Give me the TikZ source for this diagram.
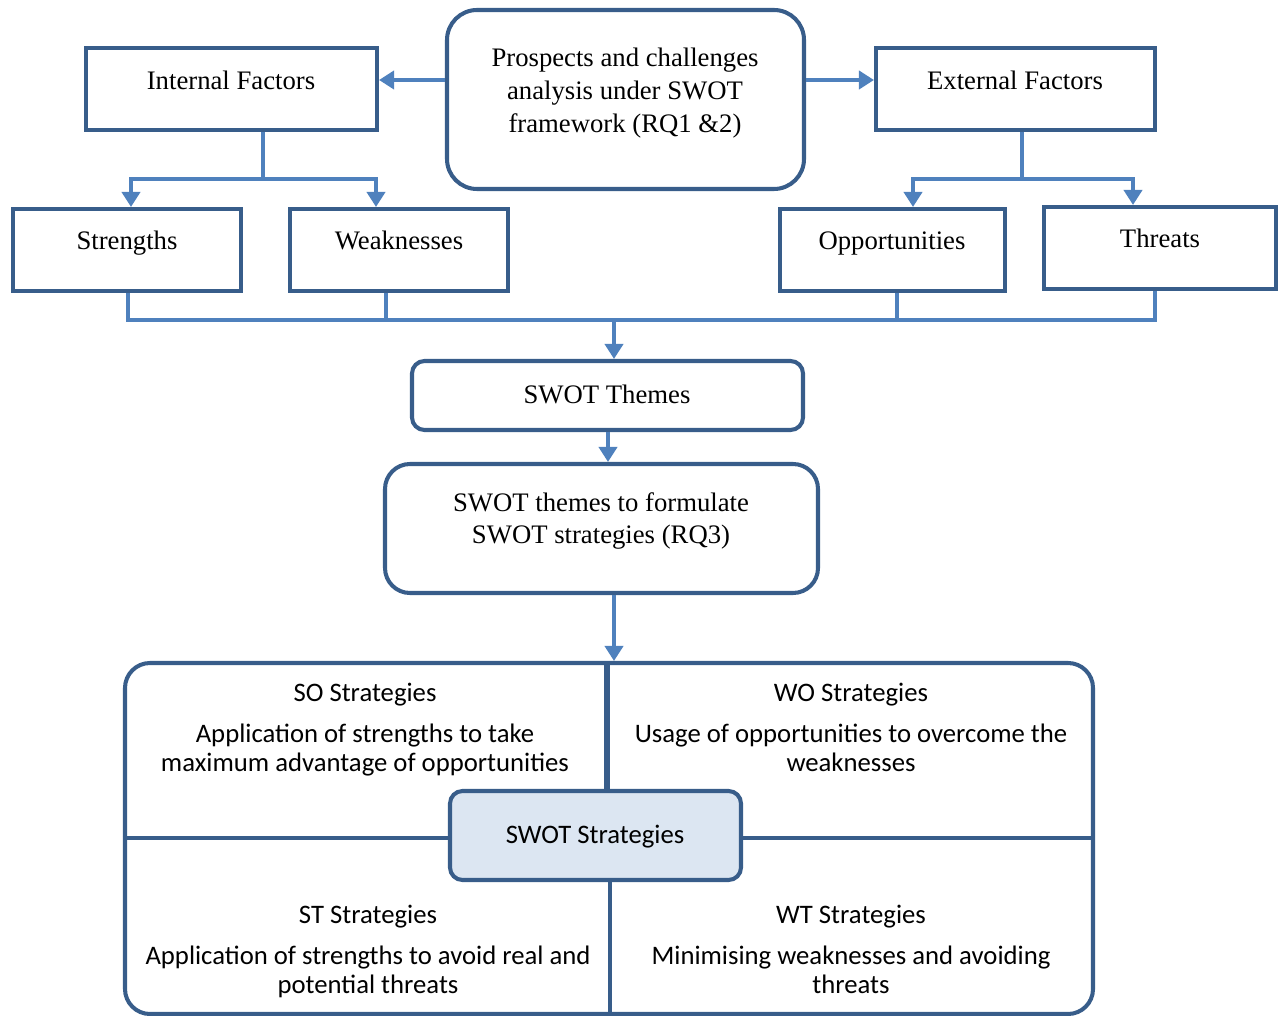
\documentclass[tikz,border=0pt]{standalone}
\usepackage{fontspec}
\setmainfont{Liberation Serif}
\newfontfamily\calfont{Carlito}
\usetikzlibrary{fit,arrows.meta}
\definecolor{bord}{HTML}{385D8A}
\definecolor{arrc}{HTML}{4F81BD}
\definecolor{cfill}{HTML}{DCE6F2}
\tikzset{
  box/.style={draw=bord, line width=2.3pt, inner sep=0pt},
  rbox/.style={box, rounded corners=#1},
  lnk/.style={draw=arrc, line width=2.3pt},
  arr/.style={lnk, -{Triangle[length=0.3cm,width=0.36cm]}},
  ser/.style={font=\fontsize{15.2}{18.7}\selectfont, align=center, inner sep=0pt},
  serone/.style={ser, text height=0.38cm, text depth=0.12cm},
  cal/.style={font=\calfont\fontsize{15.2}{16.5}\selectfont, align=center, inner sep=0pt},
}
\begin{document}
\begin{tikzpicture}[x=0.02cm,y=-0.02cm]
\useasboundingbox (0,0) rectangle (1280,1016);
% boxes
\node[rbox=0.6cm, fit={(447,10) (804,189)}] (pros) {};
\node[box, fit={(86,48) (377,130)}] (int) {};
\node[box, fit={(876,48) (1155,130)}] (ext) {};
\node[box, fit={(13,209) (241,291)}] (str) {};
\node[box, fit={(290,209) (508,291)}] (wea) {};
\node[box, fit={(780,209) (1005,291)}] (opp) {};
\node[box, fit={(1044,207) (1276,289)}] (thr) {};
\node[rbox=0.25cm, fit={(412,361) (803,430)}] (thm) {};
\node[rbox=0.5cm, fit={(385,464) (818,593)}] (form) {};
\node[rbox=0.5cm, fit={(125,663) (1093,1014)}] (strat) {};
% dividers of strategy matrix
\coordinate (dvt) at (607,791);
\coordinate (dvb) at (610,880);
\draw[draw=bord, line width=3.4pt] (strat.north -| dvt) -- (dvt);
\draw[draw=bord, line width=2.3pt] (dvb) -- (strat.south -| dvb);
\coordinate (hl) at (450,838);
\coordinate (hr) at (741,838);
\draw[draw=bord, line width=2.3pt] (strat.west |- hl) -- (hl);
\draw[draw=bord, line width=2.3pt] (hr) -- (strat.east |- hr);
\node[rbox=0.25cm, fill=cfill, fit={(450,791) (741,880)}] (core) {};
% texts
\node[ser] (tpros) at (625,93) {Prospects and challenges\\analysis under SWOT\\framework (RQ1 \&2)};
\node[serone] (tint) at (231,83) {Internal Factors};
\node[serone] (text) at (1015,83) {External Factors};
\node[serone] (tstr) at (127,243) {Strengths};
\node[serone] (twea) at (399,243) {Weaknesses};
\node[serone] (topp) at (892,243) {Opportunities};
\node[serone] (tthr) at (1160,241) {Threats};
\node[serone] (tthm) at (607,397) {SWOT Themes};
\node[ser] (tform) at (601,521) {SWOT themes to formulate\\SWOT strategies (RQ3)};
\node[cal] (tso) at (365,695) {SO Strategies};
\node[cal] (tsob) at (365,750) {Application of strengths to take\\maximum advantage of opportunities};
\node[cal] (two) at (851,695) {WO Strategies};
\node[cal] (twob) at (851,748) {Usage of opportunities to overcome the\\weaknesses};
\node[cal] (tcore) at (595,837) {SWOT Strategies};
\node[cal] (tst) at (368,917) {ST Strategies};
\node[cal] (tstb) at (368,972) {Application of strengths to avoid real and\\potential threats};
\node[cal] (twt) at (851,917) {WT Strategies};
\node[cal] (twtb) at (851,970) {Minimising weaknesses and avoiding\\threats};
% connectors top
\coordinate (ya) at (0,80);
\draw[arr] (pros.west |- ya) -- (int.east |- ya);
\draw[arr] (pros.east |- ya) -- (ext.west |- ya);
\coordinate (ib) at (263,179);
\coordinate (xs) at (131,0);
\coordinate (xw) at (376,0);
\draw[lnk] (int.south -| ib) -- (ib);
\draw[arr] (ib) -| (str.north -| xs);
\draw[arr] (ib) -| (wea.north -| xw);
\coordinate (eb) at (1022,179);
\coordinate (xo) at (913,0);
\coordinate (xt) at (1133,0);
\draw[lnk] (ext.south -| eb) -- (eb);
\draw[arr] (eb) -| (opp.north -| xo);
\draw[arr] (eb) -| (thr.north -| xt);
% bus
\coordinate (b1) at (128,320);
\coordinate (b2) at (386,320);
\coordinate (b3) at (897,320);
\coordinate (b4) at (1155,320);
\coordinate (bus) at (614,320);
\draw[lnk] (str.south -| b1) -- (b1) -- (b4) -- (thr.south -| b4);
\draw[lnk] (wea.south -| b2) -- (b2);
\draw[lnk] (opp.south -| b3) -- (b3);
\draw[arr] (bus) -- (thm.north -| bus);
\coordinate (xm) at (608,0);
\draw[arr] (thm.south -| xm) -- (form.north -| xm);
\coordinate (xf) at (614,0);
\draw[arr] (form.south -| xf) -- (strat.north -| xf);
\end{tikzpicture}
\end{document}
